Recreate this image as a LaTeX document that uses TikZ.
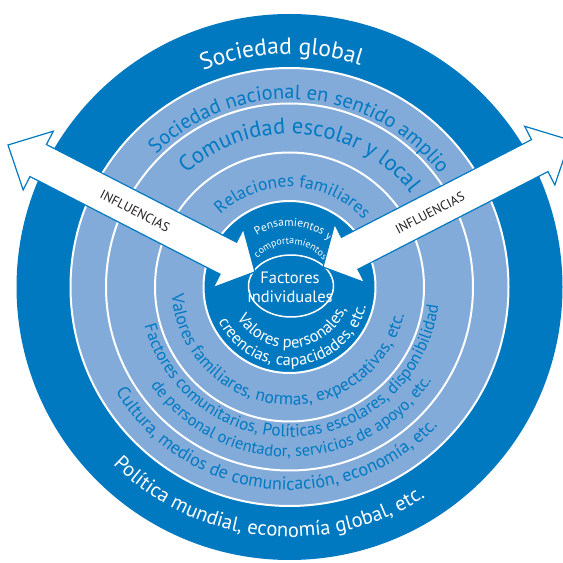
\documentclass[tikz,border=0pt]{standalone}
\usepackage{fontspec}
\setmainfont{PT Sans}
\usetikzlibrary{decorations.text}

\definecolor{deepblue}{RGB}{0,121,193}
\definecolor{paleblue}{RGB}{130,171,218}
\definecolor{inktext}{RGB}{35,31,32}

% text on the upper part of a circle, read left to right
% #1 centre, #2 baseline radius, #3 middle angle, #4 size, #5 colour, #6 text
\newcommand\toparc[6]{%
  \path[shift={(#1)}, decorate, decoration={text along path, text align=center,
        text color=#5, text={|\fontsize{#4}{#4}\selectfont|#6}}]
    (#3+100:#2) arc[start angle=#3+100, end angle=#3-100, radius=#2];}
% text on the lower part of a circle, read left to right
\newcommand\botarc[6]{%
  \path[shift={(#1)}, decorate, decoration={text along path, text align=center,
        text color=#5, text={|\fontsize{#4}{#4}\selectfont|#6}}]
    (#3-100:#2) arc[start angle=#3-100, end angle=#3+100, radius=#2];}

\tikzset{
  ringline/.style={draw=white, line width=2pt},
  arrowbody/.style={draw=deepblue, line width=1.2pt, fill=white, line join=miter},
  inflabel/.style={text=inktext, font=\fontsize{13}{13}\selectfont, inner sep=0pt},
  corelabel/.style={text=white, align=center, font=\fontsize{16.5}{19}\selectfont, inner sep=0pt}
}

\begin{document}
\begin{tikzpicture}[x=1pt, y=1pt]
\useasboundingbox (0,0) rectangle (563,563);
\clip (0,0) rectangle (563,563);

\coordinate (C) at (289.5,276);
\coordinate (core) at (291,277);

% concentric bands
\fill[deepblue] (C) circle[radius=273];
\draw[ringline, fill=paleblue] (C) circle[radius=219];
\draw[ringline] (C) circle[radius=183.5];
\draw[ringline] (C) circle[radius=134.5];
\draw[ringline, fill=deepblue] (C) circle[radius=86];
\draw[draw=white, line width=1.5pt] (core) ellipse[x radius=42.5, y radius=31];

% band captions
\toparc{C}{233}{92}{23.5}{white}{Sociedad global}
\botarc{C}{250}{264}{20.5}{white}{Política mundial, economía global, etc.}
\toparc{C}{188}{86}{20.5}{deepblue}{Sociedad nacional en sentido amplio}
\botarc{C}{203}{264}{18}{deepblue}{Cultura, medios de comunicación, economía, etc.}
\toparc{C}{153}{85}{22.5}{deepblue}{Comunidad escolar y local}
\botarc{C}{150}{274}{17}{deepblue}{Factores comunitarios, Políticas escolares, disponibilidad}
\botarc{C}{170}{271}{16.5}{deepblue}{de personal orientador, servicios de apoyo, etc.}
\toparc{C}{100}{88}{17.5}{deepblue}{Relaciones familiares}
\botarc{C}{118}{265}{17.5}{deepblue}{Valores familiares, normas, expectativas, etc.}
\toparc{C}{61}{86}{11.5}{white}{Pensamientos y}
\toparc{C}{43}{88}{10}{white}{comportamientos}
\botarc{C}{61}{274.5}{16.5}{white}{Valores personales,}
\botarc{C}{79}{276}{16.5}{white}{creencias, capacidades, etc.}

\node[corelabel] (core-text) at (290,276) {Factores\\individuales};

% double-headed influence arrows
\begin{scope}[shift={(8,418)}, rotate=-27.2]
  \draw[arrowbody] (0,0) -- (34,33) -- (34,18) -- (247.7,18) -- (247.7,33) -- (277.7,0)
    -- (247.7,-33) -- (247.7,-18) -- (34,-18) -- (34,-33) -- cycle;
\end{scope}
\begin{scope}[shift={(323,296)}, rotate=27.2]
  \draw[arrowbody] (0,0) -- (30,33) -- (30,18) -- (243.7,18) -- (243.7,33) -- (277.7,0)
    -- (243.7,-33) -- (243.7,-18) -- (30,-18) -- (30,-33) -- cycle;
\end{scope}

\node[inflabel, rotate=-27.2] (infl-left) at (135,352) {INFLUENCIAS};
\node[inflabel, rotate=27.2] (infl-right) at (430,350) {INFLUENCIAS};
\end{tikzpicture}
\end{document}
